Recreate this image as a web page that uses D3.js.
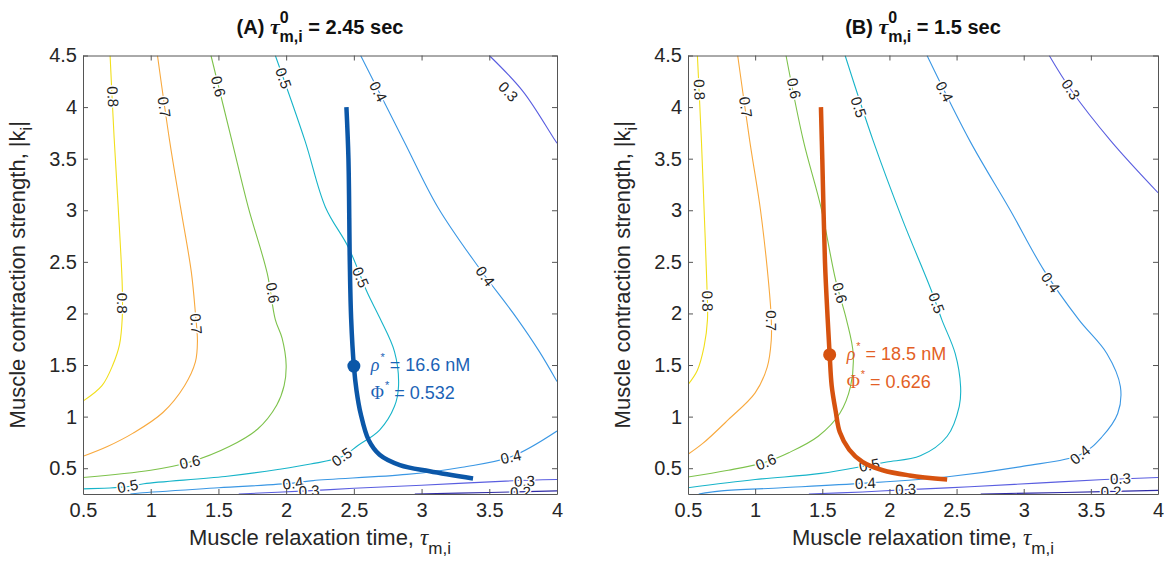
<!DOCTYPE html>
<html>
<head>
<meta charset="utf-8">
<script src="https://cdn.jsdelivr.net/npm/d3@7"></script>
<style>
  body { margin: 0; background: #fff; }
  svg { display: block; font-family: "Liberation Sans", Arial, sans-serif; }
</style>
</head>
<body>
<svg id="chart" width="1164" height="562"></svg>
<script>
// ---- data: contour lines as [tau, k] points ----
var tauTicks = [0.5, 1, 1.5, 2, 2.5, 3, 3.5, 4]
var kTicks = [0.5, 1, 1.5, 2, 2.5, 3, 3.5, 4, 4.5]
var levelNames = ["0.2", "0.3", "0.4", "0.5", "0.6", "0.7", "0.8"]
var levelColors = ["#2f2aa6", "#5a5ee0", "#3a97e4", "#17b4c9", "#7dc24b", "#f8a93e", "#f1df1a"]

// panel A, tau0 = 2.45
var a08 = [[0.70,4.5],[0.73,3.7],[0.76,3.03],[0.79,2.26],[0.79,1.96],[0.77,1.70],[0.72,1.5],[0.64,1.30],[0.5,1.15]]
var a07 = [[1.05,4.5],[1.14,3.67],[1.22,3.03],[1.30,2.4],[1.33,2.0],[1.345,1.73],[1.33,1.53],[1.25,1.30],[1.09,1.04],[0.87,0.84],[0.68,0.71],[0.5,0.615]]
var a06 = [[1.445,4.5],[1.60,3.67],[1.72,3.03],[1.86,2.39],[1.92,1.94],[1.97,1.76],[2.0,1.5],[1.985,1.3],[1.93,1.11],[1.79,0.88],[1.58,0.71],[1.29,0.56],[1.0,0.48],[0.5,0.41]]
var a05 = [[1.92,4.5],[2.14,3.67],[2.29,3.03],[2.46,2.64],[2.6,2.2],[2.69,1.96],[2.80,1.63],[2.83,1.30],[2.80,1.10],[2.69,0.87],[2.53,0.72],[2.41,0.61],[2.18,0.54],[1.95,0.49],[1.55,0.42],[0.95,0.35],[0.82,0.32],[0.5,0.30]]
var a04top = [[2.55,4.5],[2.87,3.67],[3.12,3.03],[3.42,2.45],[3.70,1.96],[3.87,1.63],[4.0,1.34]]
var a04low = [[4.0,0.86],[3.66,0.61],[3.3,0.51],[2.89,0.44],[2.20,0.38],[2.05,0.355],[1.5,0.31],[0.92,0.26],[0.85,0.25]]
var a03top = [[3.5,4.5],[3.75,4.15],[3.97,3.71],[4.0,3.65]]
var a03low = [[1.65,0.25],[2.15,0.28],[2.5,0.305],[3.0,0.335],[3.62,0.375],[4.0,0.39]]
var a02 = [[2.95,0.25],[3.5,0.265],[4.0,0.28]]
// contour label spots [level index, tau, k]
var aLabels = [[6,0.72,4.1],[5,1.10,4.0],[4,1.50,4.2],[3,1.98,4.28],[2,2.68,4.15],[1,3.64,4.15],
  [6,0.79,2.1],[5,1.335,1.9],[4,1.90,2.2],[3,2.55,2.35],[2,3.47,2.36],
  [4,1.29,0.56],[3,2.41,0.61],[3,0.83,0.325],[2,3.66,0.61],[2,2.05,0.355],[1,2.17,0.28],[1,3.76,0.375],[0,3.73,0.268]]
// optimal path and optimum
var aPath = [[2.445,4.0],[2.46,3.5],[2.47,2.5],[2.48,1.95],[2.50,1.49],[2.52,1.25],[2.55,1.03],[2.61,0.77],[2.69,0.63],[2.84,0.53],[3.06,0.47],[3.38,0.40]]
var aOpt = [2.50, 1.49]

// panel B, tau0 = 1.5
var b08 = [[0.57,4.5],[0.60,3.67],[0.62,3.0],[0.64,2.3],[0.645,1.94],[0.62,1.68],[0.57,1.45],[0.5,1.31]]
var b07 = [[0.87,4.5],[0.96,3.67],[1.04,3.0],[1.10,2.3],[1.12,1.95],[1.12,1.74],[1.09,1.48],[1.0,1.23],[0.80,0.97],[0.61,0.74],[0.5,0.635]]
var b06 = [[1.23,4.5],[1.36,3.67],[1.49,3.03],[1.60,2.32],[1.68,1.94],[1.73,1.61],[1.71,1.29],[1.63,1.03],[1.47,0.81],[1.25,0.65],[1.08,0.56],[0.8,0.48],[0.5,0.415]]
var b05 = [[1.67,4.5],[1.88,3.67],[2.1,2.9],[2.31,2.23],[2.39,1.94],[2.49,1.61],[2.53,1.29],[2.52,1.1],[2.43,0.81],[2.23,0.62],[1.98,0.56],[1.85,0.53],[1.49,0.45],[1.0,0.39],[0.5,0.31]]
var b04 = [[2.28,4.5],[2.6,3.67],[2.9,3.0],[3.15,2.42],[3.41,1.94],[3.62,1.61],[3.72,1.29],[3.70,1.03],[3.58,0.80],[3.42,0.63],[3.0,0.52],[2.45,0.42],[1.82,0.355],[1.2,0.31],[0.75,0.28],[0.58,0.25]]
var b03top = [[3.19,4.5],[3.35,4.17],[3.65,3.67],[4.0,3.17]]
var b03low = [[1.4,0.25],[1.8,0.27],[2.1,0.29],[2.6,0.32],[3.1,0.355],[3.6,0.39],[4.0,0.41]]
var b02 = [[2.68,0.25],[3.3,0.265],[4.0,0.285]]
var bLabels = [[6,0.585,4.17],[5,0.93,4.0],[4,1.29,4.18],[3,1.77,4.0],[2,2.41,4.15],[1,3.35,4.17],
  [6,0.645,2.12],[5,1.12,1.93],[4,1.63,2.2],[3,2.35,2.1],[2,3.2,2.3],
  [4,1.08,0.56],[3,1.85,0.53],[2,3.42,0.63],[2,1.82,0.355],[1,2.12,0.295],[1,3.72,0.40],[0,3.65,0.272]]
var bPath = [[1.49,4.0],[1.50,3.5],[1.52,2.5],[1.54,1.95],[1.555,1.6],[1.57,1.3],[1.60,1.05],[1.63,0.85],[1.70,0.68],[1.80,0.56],[1.95,0.48],[2.15,0.43],[2.43,0.39]]
var bOpt = [1.555, 1.6]

var panels = [
  { id: "A", tag: "(A) ", tau0: "2.45", left: 83, right: 557,
    lines: [[6,a08],[5,a07],[4,a06],[3,a05],[2,a04top],[2,a04low],[1,a03top],[1,a03low],[0,a02]],
    labels: aLabels, path: aPath, opt: aOpt, rho: "16.6", phi: "0.532",
    lineColor: "#0b57a8", textColor: "#1b63b6" },
  { id: "B", tag: "(B) ", tau0: "1.5", left: 688, right: 1158,
    lines: [[6,b08],[5,b07],[4,b06],[3,b05],[2,b04],[1,b03top],[1,b03low],[0,b02]],
    labels: bLabels, path: bPath, opt: bOpt, rho: "18.5", phi: "0.626",
    lineColor: "#d6520f", textColor: "#e35f26" }
]

var plotTop = 55.5, plotBottom = 494
var svg = d3.select("#chart")
var serif = "'Liberation Serif','DejaVu Serif',serif"

panels.forEach(function (p) {
  var xScale = d3.scaleLinear().domain([0.5, 4]).range([p.left, p.right])
  var yScale = d3.scaleLinear().domain([0.25, 4.5]).range([plotBottom, plotTop])
  var cx = (p.left + p.right) / 2

  svg.append("clipPath").attr("id", "clip" + p.id)
    .append("rect")
    .attr("x", p.left).attr("y", plotTop)
    .attr("width", p.right - p.left).attr("height", plotBottom - plotTop)

  var g = svg.append("g")
  var plot = g.append("g").attr("clip-path", "url(#clip" + p.id + ")")

  var line = d3.line()
    .x(d => xScale(d[0]))
    .y(d => yScale(d[1]))
    .curve(d3.curveCatmullRom.alpha(0.5))

  plot.selectAll("path.contour")
    .data(p.lines)
    .enter()
    .append("path")
    .attr("class", "contour")
    .attr("d", d => line(d[1]))
    .attr("fill", "none")
    .attr("stroke", d => levelColors[d[0]])
    .attr("stroke-width", 1.1)

  // contour labels, turned along the line
  p.labels.forEach(function (lb) {
    var px = xScale(lb[1]), py = yScale(lb[2])
    var best = [1, 0], bestD = Infinity
    p.lines.filter(l => l[0] === lb[0]).forEach(function (l) {
      var pts = l[1]
      for (var i = 0; i < pts.length - 1; i++) {
        var x1 = xScale(pts[i][0]), y1 = yScale(pts[i][1])
        var x2 = xScale(pts[i + 1][0]), y2 = yScale(pts[i + 1][1])
        var mx = (x1 + x2) / 2, my = (y1 + y2) / 2
        var dd = (mx - px) * (mx - px) + (my - py) * (my - py)
        if (dd < bestD) { bestD = dd; best = [x2 - x1, y2 - y1] }
      }
    })
    var ang = Math.atan2(best[1], best[0]) * 180 / Math.PI
    if (ang > 90) ang -= 180
    if (ang <= -90) ang += 180
    plot.append("text")
      .attr("transform", "translate(" + px + "," + py + ") rotate(" + ang + ")")
      .attr("text-anchor", "middle")
      .attr("dy", "0.35em")
      .attr("font-size", 15)
      .attr("fill", "#222")
      .attr("stroke", "#fff")
      .attr("stroke-width", 3)
      .attr("paint-order", "stroke")
      .text(levelNames[lb[0]])
  })

  // optimal path
  plot.append("path")
    .attr("d", line(p.path))
    .attr("fill", "none")
    .attr("stroke", p.lineColor)
    .attr("stroke-width", 4.5)

  g.append("circle")
    .attr("cx", xScale(p.opt[0]))
    .attr("cy", yScale(p.opt[1]))
    .attr("r", 6.5)
    .attr("fill", p.lineColor)

  var tx = xScale(p.opt[0]) + 17, ty = yScale(p.opt[1])
  var t1 = g.append("text").attr("x", tx).attr("y", ty + 5)
    .attr("font-size", 18).attr("fill", p.textColor)
  t1.append("tspan").attr("font-family", serif).attr("font-style", "italic").text("ρ")
  t1.append("tspan").attr("dx", 1).attr("dy", -10).attr("font-size", 11).text("*")
  t1.append("tspan").attr("dy", 10).text(" = " + p.rho + " nM")
  var t2 = g.append("text").attr("x", tx).attr("y", ty + 33)
    .attr("font-size", 18).attr("fill", p.textColor)
  t2.append("tspan").attr("font-family", serif).text("Φ")
  t2.append("tspan").attr("dx", 1).attr("dy", -10).attr("font-size", 11).text("*")
  t2.append("tspan").attr("dy", 10).text(" = " + p.phi)

  // axes, ticks inside like the original box
  g.append("g")
    .attr("transform", "translate(0," + plotBottom + ")")
    .call(d3.axisBottom(xScale).tickValues(tauTicks).tickFormat(d3.format("")).tickSize(-5).tickSizeOuter(0).tickPadding(9))
  g.append("g")
    .attr("transform", "translate(0," + plotTop + ")")
    .call(d3.axisTop(xScale).tickValues(tauTicks).tickFormat("").tickSize(-5).tickSizeOuter(0))
  g.append("g")
    .attr("transform", "translate(" + p.left + ",0)")
    .call(d3.axisLeft(yScale).tickValues(kTicks).tickFormat(d3.format("")).tickSize(-5).tickSizeOuter(0).tickPadding(6))
  g.append("g")
    .attr("transform", "translate(" + p.right + ",0)")
    .call(d3.axisRight(yScale).tickValues(kTicks).tickFormat("").tickSize(-5).tickSizeOuter(0))

  g.selectAll(".domain, .tick line").attr("stroke", "#555").attr("stroke-width", 1)
  g.selectAll(".tick text")
    .attr("font-family", "'Liberation Sans', Arial, sans-serif")
    .attr("font-size", 20)
    .attr("fill", "#262626")

  // title
  var title = g.append("text")
    .attr("x", cx).attr("y", 34)
    .attr("text-anchor", "middle")
    .attr("font-size", 20).attr("font-weight", "bold").attr("fill", "#111")
  title.append("tspan").text(p.tag)
  title.append("tspan").attr("font-family", serif).attr("font-style", "italic").attr("font-size", 22).text("τ")
  title.append("tspan").attr("dy", -11).attr("font-size", 16).text("0")
  title.append("tspan").attr("dx", -9).attr("dy", 19).attr("font-size", 16).text("m,i")
  title.append("tspan").attr("dy", -8).text(" = " + p.tau0 + " sec")

  // axis labels
  var xl = g.append("text")
    .attr("x", cx).attr("y", 545)
    .attr("text-anchor", "middle")
    .attr("font-size", 22).attr("fill", "#262626")
  xl.append("tspan").text("Muscle relaxation time, ")
  xl.append("tspan").attr("font-family", serif).attr("font-style", "italic").attr("font-size", 23).text("τ")
  xl.append("tspan").attr("dy", 9).attr("font-size", 17).text("m,i")

  var yl = g.append("text")
    .attr("transform", "translate(" + (p.left - 58) + "," + ((plotTop + plotBottom) / 2) + ") rotate(-90)")
    .attr("text-anchor", "middle")
    .attr("font-size", 22).attr("fill", "#262626")
  yl.append("tspan").text("Muscle contraction strength, |k")
  yl.append("tspan").attr("dy", 7).attr("font-size", 16).text("i")
  yl.append("tspan").attr("dy", -7).text("|")
})
</script>
</body>
</html>
